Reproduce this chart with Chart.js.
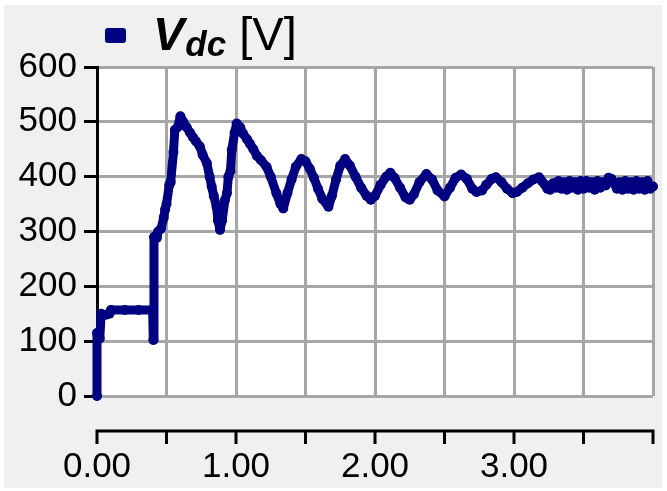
<!DOCTYPE html>
<html>
<head>
<meta charset="utf-8">
<script src="https://cdn.jsdelivr.net/npm/chart.js@4"></script>
<style>
  html, body { margin:0; padding:0; background:#ffffff; width:667px; height:491px; overflow:hidden; }
  #panel { position:absolute; left:4px; top:5px; width:658px; height:483px; background:#f0f0f0; }
  #wrap { position:absolute; left:0; top:0; width:667px; height:491px; }
  #legend { position:absolute; left:105px; top:10px; height:50px; font-family:"Liberation Sans", Arial, sans-serif; color:#000; white-space:nowrap; }
  #legend .sq { position:absolute; left:0; top:18px; width:21px; height:15px; background:#000080; border-radius:3px; }
  #legend .txt { position:absolute; left:48px; top:0; font-size:47px; line-height:47px; }
  #legend .v { font-weight:bold; font-style:italic; }
  #legend .sub { font-weight:bold; font-style:italic; font-size:35px; position:relative; top:6px; margin-left:1px; }
</style>
</head>
<body>
<div id="panel"></div>
<div id="wrap"><canvas id="c" width="667" height="491"></canvas></div>
<div id="legend"><div class="sq"></div><div class="txt"><span class="v">V</span><span class="sub">dc</span> [V]</div></div>
<script>
// time in seconds (x values)
const timeS = [
  0, 0, 0.02, 0.03, 0.06, 0.09, 0.10, 0.20, 0.30, 0.40, 0.405, 0.41, 0.43, 0.44, 0.46, 0.48, 0.49, 0.50,
  0.52, 0.53, 0.55, 0.56, 0.58, 0.60, 0.62, 0.645, 0.67, 0.69, 0.71, 0.74, 0.76, 0.79, 0.81, 0.825,
  0.84, 0.86, 0.87, 0.885, 0.90, 0.92, 0.935, 0.945, 0.96, 0.97, 0.99, 1.005, 1.03, 1.05, 1.08, 1.10,
  1.125, 1.15, 1.18, 1.22, 1.25, 1.29, 1.32, 1.34, 1.37, 1.40, 1.43, 1.47, 1.50, 1.53, 1.56, 1.59,
  1.62, 1.665, 1.69, 1.72, 1.75, 1.785, 1.82, 1.86, 1.90, 1.94, 1.97, 2.00, 2.04, 2.08, 2.11, 2.14,
  2.18, 2.22, 2.25, 2.28, 2.32, 2.37, 2.41, 2.45, 2.50, 2.54, 2.58, 2.62, 2.66, 2.70, 2.73, 2.77,
  2.80, 2.84, 2.87, 2.91, 2.95, 2.99, 3.02, 3.06, 3.10, 3.14, 3.18, 3.20, 3.22, 3.24, 3.26, 3.28,
  3.30, 3.32, 3.34, 3.36, 3.38, 3.40, 3.42, 3.44, 3.46, 3.48, 3.50, 3.52, 3.54, 3.56, 3.58, 3.60,
  3.62, 3.64, 3.66, 3.68, 3.70, 3.72, 3.74, 3.76, 3.78, 3.80, 3.82, 3.84, 3.86, 3.88, 3.90, 3.92,
  3.94, 3.96, 3.98, 4.00
];
// DC-link voltage [V]
const vdc = [
  0, 115, 105, 150, 148, 150, 157, 157, 157, 157, 102, 290, 288, 300, 305, 325, 340, 350,
  385, 390, 445, 485, 490, 510, 500, 490, 480, 472, 465, 455, 440, 425, 400, 382,
  365, 345, 320, 303, 320, 357, 370, 400, 410, 449, 480, 497, 490, 479, 468, 460,
  450, 438, 430, 418, 400, 370, 350, 342, 370, 395, 418, 432, 428, 415, 398, 378,
  360, 345, 365, 395, 420, 432, 420, 400, 380, 365, 358, 365, 385, 400, 407, 398,
  380, 362, 358, 368, 390, 405, 395, 375, 364, 380, 398, 404, 396, 378, 372, 375,
  385, 396, 399, 390, 378, 370, 372, 380, 388, 395, 399, 392, 386, 378, 376, 388,
  380, 392, 378, 390, 376, 392, 380, 390, 376, 392, 378, 392, 380, 390, 376, 392,
  380, 390, 384, 398, 396, 388, 378, 390, 376, 392, 378, 390, 376, 392, 378, 390,
  376, 392, 378, 382
];
const yTicks = [0, 100, 200, 300, 400, 500, 600];
const xLabels = ['0.00', '1.00', '2.00', '3.00'];

const points = timeS.map((t, i) => ({ x: t, y: vdc[i] }));
const NAVY = '#000080';
const GRID = '#a6a6a6';
const FONT = "'Liberation Sans', Arial, sans-serif";

const plotBg = {
  id: 'plotBg',
  beforeDraw(chart) {
    const { ctx, chartArea: a } = chart;
    ctx.save();
    ctx.fillStyle = '#ffffff';
    ctx.fillRect(a.left, a.top, a.right - a.left, a.bottom - a.top);
    ctx.restore();
  },
  afterDraw(chart) {
    // detached x axis line with downward ticks
    const { ctx, chartArea: a } = chart;
    const xs = chart.scales.x;
    const yAxis = a.bottom + 35;
    ctx.save();
    ctx.strokeStyle = '#000';
    ctx.lineWidth = 3;
    ctx.lineCap = 'butt';
    ctx.beginPath();
    ctx.moveTo(a.left - 1.5, yAxis);
    ctx.lineTo(a.right + 1.5, yAxis);
    xs.ticks.forEach(tk => {
      const px = xs.getPixelForValue(tk.value);
      ctx.moveTo(px, yAxis);
      ctx.lineTo(px, yAxis + 13);
    });
    ctx.stroke();
    ctx.restore();
  }
};

new Chart(document.getElementById('c'), {
  type: 'line',
  data: {
    datasets: [{
      label: 'Vdc [V]',
      data: points,
      borderColor: NAVY,
      backgroundColor: NAVY,
      borderWidth: 9,
      pointRadius: 5,
      pointBorderWidth: 0,
      pointBackgroundColor: NAVY,
      borderJoinStyle: 'round',
      borderCapStyle: 'round',
      tension: 0,
      fill: false,
      clip: 7
    }]
  },
  options: {
    responsive: false,
    animation: false,
    events: [],
    layout: { padding: { left: 0, top: 67, right: 14, bottom: 0 } },
    plugins: { legend: { display: false }, tooltip: { enabled: false } },
    scales: {
      x: {
        type: 'linear',
        min: 0, max: 4,
        afterFit(s) { s.height = 95; s.paddingLeft = 0; s.paddingRight = 0; },
        border: { display: false },
        grid: {
          color: ctx => (ctx.tick && ctx.tick.value === 0) ? 'rgba(0,0,0,0)' : GRID,
          lineWidth: 3,
          drawTicks: false
        },
        ticks: {
          stepSize: 0.5,
          autoSkip: false,
          maxRotation: 0,
          padding: 50,
          color: '#000',
          font: { family: FONT, size: 35 },
          callback: v => {
            const i = xLabels.indexOf(Number(v).toFixed(2));
            return i >= 0 ? xLabels[i] : '';
          }
        }
      },
      y: {
        min: 0, max: 600,
        afterFit(s) { s.width = 97; s.paddingTop = 0; s.paddingBottom = 0; },
        afterBuildTicks(s) { s.ticks = yTicks.map(v => ({ value: v })); },
        border: { display: true, color: '#000', width: 3 },
        grid: {
          color: GRID,
          lineWidth: 3,
          tickLength: 13,
          tickColor: '#000',
          tickWidth: 3
        },
        ticks: {
          padding: 7,
          color: '#000',
          font: { family: FONT, size: 35 }
        }
      }
    }
  },
  plugins: [plotBg]
});
</script>
</body>
</html>
